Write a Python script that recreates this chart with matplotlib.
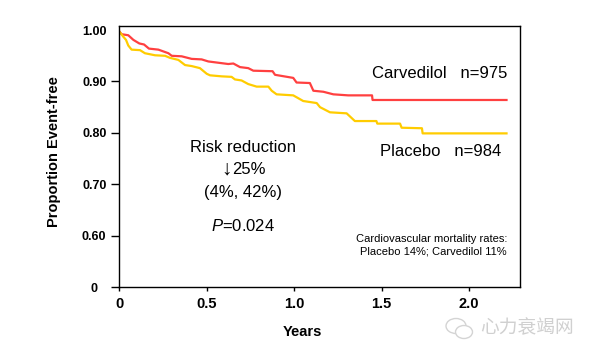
import matplotlib
matplotlib.use('Agg')
import matplotlib.pyplot as plt
from matplotlib.patches import Ellipse
from matplotlib.transforms import ScaledTranslation

plt.rcParams['font.family']=['Liberation Sans','DejaVu Sans']
plt.rcParams['mathtext.fontset']='custom'
plt.rcParams['mathtext.it']='Liberation Sans:italic'

# 读图得到的生存曲线
carv_t=[0,0.015,0.053,0.082,0.116,0.143,0.171,0.225,0.282,0.301,0.358,0.415,0.472,0.510,0.624,0.653,0.691,0.738,0.767,0.877,0.891,0.995,1.014,1.090,1.110,1.167,1.224,1.309,1.445,1.448,2.213]
carv_s=[0.998,0.992,0.990,0.981,0.974,0.972,0.964,0.962,0.955,0.950,0.949,0.944,0.943,0.939,0.934,0.935,0.928,0.926,0.921,0.920,0.913,0.907,0.898,0.897,0.882,0.880,0.875,0.873,0.873,0.864,0.864]
plac_t=[0,0.025,0.040,0.053,0.072,0.120,0.148,0.206,0.263,0.291,0.339,0.377,0.415,0.462,0.501,0.520,0.586,0.643,0.662,0.700,0.738,0.786,0.853,0.872,0.900,0.995,1.052,1.129,1.148,1.205,1.300,1.347,1.470,1.475,1.605,1.614,1.730,1.734,2.213]
plac_s=[0.998,0.987,0.981,0.970,0.962,0.961,0.955,0.951,0.950,0.946,0.942,0.932,0.930,0.926,0.915,0.912,0.910,0.909,0.904,0.902,0.895,0.890,0.890,0.882,0.875,0.873,0.862,0.858,0.850,0.840,0.838,0.823,0.823,0.818,0.818,0.810,0.809,0.799,0.799]

# 坐标轴在0.60以下是断开的，0画在0.50的位置
y_ticks=[0.5,0.6,0.7,0.8,0.9,1.0]
y_labels=['0','0.60','0.70','0.80','0.90','1.00']
x_ticks=[0,0.5,1.0,1.5,2.0]
x_labels=['0','0.5','1.0','1.5','2.0']

fig=plt.figure(figsize=(5.94,3.56),dpi=100)
ax=fig.add_axes([119/594,1-287/356,401/594,261/356])
ax.plot(carv_t,carv_s,color='#ff4040',lw=1.6)
ax.plot(plac_t,plac_s,color='#ffcc00',lw=1.6)
ax.set_xlim(0,2.29)
ax.set_ylim(0.5,1.008)
ax.set_xticks(x_ticks)
ax.set_xticklabels(x_labels,fontsize=10.5,fontweight='bold')
ax.set_yticks(y_ticks)
ax.set_yticklabels(y_labels,fontsize=9,fontweight='bold')
ax.tick_params(axis='x',length=3,width=1,pad=4)
ax.tick_params(axis='y',length=6,width=1,pad=3)
# 0.80的刻度是黄色，1.00没有刻度线
ax.get_yticklines()[6].set_color('#ffcc00')
ax.get_yticklines()[10].set_visible(False)
# 0的标签比其他的更靠左
lab0=ax.get_yticklabels()[0]
lab0.set_transform(lab0.get_transform()+ScaledTranslation(-9/100,0,fig.dpi_scale_trans))
for s in ax.spines.values():
    s.set_linewidth(1)
ax.set_xlabel('Years',fontsize=10.5,fontweight='bold')
ax.set_ylabel('Proportion Event-free',fontsize=10.5,fontweight='bold')
ax.xaxis.set_label_coords(302/594,1-325/356,transform=fig.transFigure)
ax.yaxis.set_label_coords(61/594,1-152/356,transform=fig.transFigure)

def txt(x,y,s,**kw):
    fig.text(x/594,1-y/356,s,va='center',**kw)

txt(372,73,'Carvedilol   n=975',fontsize=12)
txt(380,151,'Placebo   n=984',fontsize=12)
txt(243,147,'Risk reduction',fontsize=12,ha='center')
txt(221.5,169,'\u2193',fontsize=15)
txt(232,170,'25%',fontsize=12)
txt(243,192,'(4%, 42%)',fontsize=12,ha='center')
txt(243,226,'$\\mathit{P}$=0.024',fontsize=12,ha='center')
txt(507,239,'Cardiovascular mortality rates:',fontsize=8,ha='right')
txt(507,252,'Placebo 14%; Carvedilol 11%',fontsize=8,ha='right')

# 水印
txt(480,328,'心力衰竭网',fontsize=13.5,color='#d0d0d0',family=['Noto Sans CJK SC','DejaVu Sans'])
for cx,cy,w,h in [(456,326,20,15),(464,332,17,13)]:
    fig.add_artist(Ellipse((cx/594,1-cy/356),w/594,h/356,fc='white',ec='#d4d4d4',lw=1,transform=fig.transFigure))

plt.savefig('out.png',dpi=100)
